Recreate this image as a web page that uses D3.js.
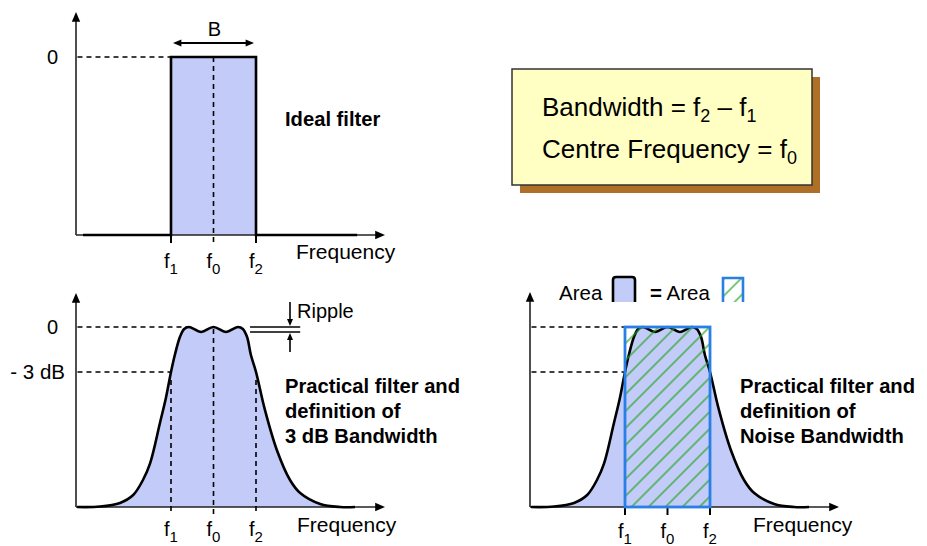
<!DOCTYPE html>
<html>
<head>
<meta charset="utf-8">
<script src="https://cdn.jsdelivr.net/npm/d3@7/dist/d3.min.js"></script>
<style>
  html, body { margin: 0; padding: 0; background: #fff; }
  svg { display: block; font-family: "Liberation Sans", Arial, sans-serif; }
</style>
</head>
<body>
<svg id="chart" width="927" height="546"></svg>
<script>
// ---------------- data ----------------
// frequency in units of half-bandwidth, f0 = 0, f1 = -1, f2 = +1; gain in dB
const tickNames = ["1", "0", "2"];            // subscripts of f
const tickFreqs = [-1, 0, 1];                 // f1, f0, f2
const idealFreq = [-3.07, -1, -1, 1, 1, 3.38];
const idealGain = [-12, -12, 0, 0, -12, -12];
const practicalFreq = [-3.21, -2.67, -2.2, -1.89, -1.66, -1.49, -1.26, -1.12, -1.0, -0.91, -0.79, -0.69, -0.58, -0.29, 0, 0.29, 0.58, 0.69, 0.79, 0.88, 1.0, 1.21, 1.49, 1.8, 2.04, 2.51, 2.98, 3.33];
const practicalGain = [-12, -11.97, -11.73, -11.2, -10.2, -9.07, -6.4, -4.73, -3.0, -1.87, -0.67, -0.13, 0, -0.33, 0, -0.33, 0, -0.13, -0.67, -1.87, -3.0, -5.53, -8.2, -10.2, -11.07, -11.8, -12, -12];
const levelLabels = ["0", "- 3 dB"];
const levelValues = [0, -3];
const rippleGain = [0, -0.33];
const noiseBand = [-1, 1];
const boxLines = [["Bandwidth = f", "2", " \u2013 f", "1"], ["Centre Frequency = f", "0"]];
const titles = {
  ideal: ["Ideal filter"],
  practical: ["Practical filter and", "definition of", "3 dB Bandwidth"],
  noise: ["Practical filter and", "definition of", "Noise Bandwidth"]
};

// ---------------- setup ----------------
const svg = d3.select("#chart");
const BLUE_FILL = "#c3cbf8";
const AXIS = "#222";
const defs = svg.append("defs");
defs.append("pattern").attr("id", "hatch").attr("patternUnits", "userSpaceOnUse")
  .attr("width", 12).attr("height", 12).attr("patternTransform", "rotate(45)")
  .append("line").attr("x1", 1).attr("y1", 0).attr("x2", 1).attr("y2", 12)
  .attr("stroke", "#1fa51f").attr("stroke-width", 1.2);

function arrowHead(g, x, y, dir, size) {
  const s = size || 7;
  let pts;
  if (dir === "up") pts = [[x, y], [x - s * 0.6, y + s * 1.4], [x + s * 0.6, y + s * 1.4]];
  if (dir === "down") pts = [[x, y], [x - s * 0.6, y - s * 1.4], [x + s * 0.6, y - s * 1.4]];
  if (dir === "right") pts = [[x, y], [x - s * 1.4, y - s * 0.6], [x - s * 1.4, y + s * 0.6]];
  if (dir === "left") pts = [[x, y], [x + s * 1.4, y - s * 0.6], [x + s * 1.4, y + s * 0.6]];
  g.append("path").attr("d", "M" + pts.map(p => p.join(",")).join("L") + "Z").attr("fill", "#000");
}

function fLabel(g, x, y, sub) {
  const t = g.append("text").attr("x", x).attr("y", y).attr("text-anchor", "middle")
    .attr("font-size", 20).attr("fill", "#000");
  t.append("tspan").text("f");
  t.append("tspan").attr("dy", 6).attr("font-size", 15).text(sub);
}

function panel(opt) {
  const g = svg.append("g");
  const x = d3.scaleLinear().domain([-3.235, 4.035]).range([opt.x0, opt.x0 + 309]);
  const y = d3.scaleLinear().domain([-12, 0]).range([opt.yBase, opt.yTop]);
  return { g, x, y };
}

function axes(p, opt) {
  const g = p.g;
  const x0 = p.x(-3.235), xEnd = p.x(4.035), yb = p.y(-12);
  g.append("line").attr("x1", x0).attr("x2", x0).attr("y1", yb).attr("y2", opt.yArrow + 6)
    .attr("stroke", AXIS).attr("stroke-width", 1.6);
  arrowHead(g, x0, opt.yArrow, "up", 7);
  g.append("line").attr("x1", x0).attr("x2", xEnd - 6).attr("y1", yb).attr("y2", yb)
    .attr("stroke", AXIS).attr("stroke-width", 1.6);
  arrowHead(g, xEnd, yb, "right", 7);
  g.append("text").attr("x", opt.freqX).attr("y", opt.freqY).attr("font-size", 21).text("Frequency");
}

function dashed(g, x1, y1, x2, y2) {
  g.append("line").attr("x1", x1).attr("y1", y1).attr("x2", x2).attr("y2", y2)
    .attr("stroke", "#000").attr("stroke-width", 1.6).attr("stroke-dasharray", "5,4");
}
function solid(g, x1, y1, x2, y2, w, c) {
  g.append("line").attr("x1", x1).attr("y1", y1).attr("x2", x2).attr("y2", y2)
    .attr("stroke", c || "#000").attr("stroke-width", w || 1.6);
}
function boldText(g, xx, yy, lines) {
  lines.forEach((l, i) => g.append("text").attr("x", xx).attr("y", yy + i * 25)
    .attr("font-size", 20.2).attr("font-weight", "bold").text(l));
}

const practical = practicalFreq.map((f, i) => ({ f, g: practicalGain[i] }));

// ---------------- panel 1: ideal filter ----------------
{
  const p = panel({ x0: 76, yBase: 235, yTop: 57 });
  const g = p.g;
  g.append("rect").attr("x", p.x(-1)).attr("y", p.y(0)).attr("width", p.x(1) - p.x(-1))
    .attr("height", p.y(-12) - p.y(0)).attr("fill", BLUE_FILL);
  axes(p, { yArrow: 12, freqX: 296, freqY: 259 });
  dashed(g, p.x(-3.2), p.y(0), p.x(-1), p.y(0));
  dashed(g, p.x(0), p.y(0), p.x(0), p.y(-12) + 8);
  [-1, 1].forEach(f => solid(g, p.x(f), p.y(-12), p.x(f), p.y(-12) + 8, 2));
  const ideal = idealFreq.map((f, i) => ({ f, g: idealGain[i] }));
  g.append("path").attr("d", d3.line().x(d => p.x(d.f)).y(d => p.y(d.g))(ideal))
    .attr("fill", "none").attr("stroke", "#000").attr("stroke-width", 2.6);
  g.append("text").attr("x", 58).attr("y", p.y(0) + 7).attr("text-anchor", "end")
    .attr("font-size", 20).text(levelLabels[0]);
  // bandwidth arrow B
  const ay = 43;
  solid(g, p.x(-1) + 8, ay, p.x(1) - 8, ay, 1.8);
  arrowHead(g, p.x(-1) + 2, ay, "left", 6);
  arrowHead(g, p.x(1) - 2, ay, "right", 6);
  g.append("text").attr("x", p.x(0) + 1).attr("y", 36).attr("text-anchor", "middle").attr("font-size", 20).text("B");
  tickFreqs.forEach((f, i) => fLabel(g, p.x(f), 268, tickNames[i]));
  boldText(g, 285, 126, titles.ideal);
}

// ---------------- panel 2: practical filter, 3 dB bandwidth ----------------
{
  const p = panel({ x0: 76, yBase: 507, yTop: 327 });
  const g = p.g;
  const curve = d3.curveCatmullRom.alpha(0.5);
  g.append("path").attr("d", d3.area().x(d => p.x(d.f)).y0(p.y(-12)).y1(d => p.y(d.g)).curve(curve)(practical))
    .attr("fill", BLUE_FILL);
  axes(p, { yArrow: 293, freqX: 297, freqY: 532 });
  dashed(g, p.x(-3.2), p.y(0), p.x(-0.6), p.y(0));
  dashed(g, p.x(-3.2), p.y(-3), p.x(-1), p.y(-3));
  dashed(g, p.x(-1), p.y(-3) + 8, p.x(-1), p.y(-12) + 8);
  dashed(g, p.x(1), p.y(-3) + 8, p.x(1), p.y(-12) + 8);
  dashed(g, p.x(0), p.y(0) + 2, p.x(0), p.y(-12) + 8);
  g.append("path").attr("d", d3.line().x(d => p.x(d.f)).y(d => p.y(d.g)).curve(curve)(practical))
    .attr("fill", "none").attr("stroke", "#000").attr("stroke-width", 2.6);
  levelValues.forEach((v, i) => g.append("text").attr("x", i === 0 ? 58 : 65).attr("y", p.y(v) + 7)
    .attr("text-anchor", "end").attr("font-size", i === 0 ? 20 : 20.5).text(levelLabels[i]));
  // ripple annotation
  const rx1 = p.x(0.86), rx2 = p.x(2.04), ax = p.x(1.8);
  rippleGain.forEach(v => solid(g, rx1, p.y(v), rx2, p.y(v), 1.6));
  solid(g, ax, 302, ax, p.y(0) - 8, 1.6);
  arrowHead(g, ax, p.y(0) - 1, "down", 5);
  solid(g, ax, 352, ax, p.y(rippleGain[1]) + 8, 1.6);
  arrowHead(g, ax, p.y(rippleGain[1]) + 1, "up", 5);
  g.append("text").attr("x", 297).attr("y", 318).attr("font-size", 20).text("Ripple");
  tickFreqs.forEach((f, i) => fLabel(g, p.x(f), 536, tickNames[i]));
  boldText(g, 285, 393, titles.practical);
}

// ---------------- panel 3: noise bandwidth ----------------
{
  const p = panel({ x0: 530, yBase: 507, yTop: 327 });
  const g = p.g;
  const curve = d3.curveCatmullRom.alpha(0.5);
  g.append("path").attr("d", d3.area().x(d => p.x(d.f)).y0(p.y(-12)).y1(d => p.y(d.g)).curve(curve)(practical))
    .attr("fill", BLUE_FILL);
  axes(p, { yArrow: 292, freqX: 753, freqY: 532 });
  dashed(g, p.x(-3.2), p.y(0), p.x(-1), p.y(0));
  dashed(g, p.x(-3.2), p.y(-3), p.x(-1), p.y(-3));
  tickFreqs.forEach(f => solid(g, p.x(f), p.y(-12), p.x(f), p.y(-12) + 8, 2));
  g.append("path").attr("d", d3.line().x(d => p.x(d.f)).y(d => p.y(d.g)).curve(curve)(practical))
    .attr("fill", "none").attr("stroke", "#000").attr("stroke-width", 2.6);
  g.append("rect").attr("x", p.x(noiseBand[0])).attr("y", p.y(0))
    .attr("width", p.x(noiseBand[1]) - p.x(noiseBand[0])).attr("height", p.y(-12) - p.y(0))
    .attr("fill", "url(#hatch)").attr("stroke", "#2a7fe6").attr("stroke-width", 2.8);
  tickFreqs.forEach((f, i) => fLabel(g, p.x(f), 538, tickNames[i]));
  boldText(g, 740, 393, titles.noise);
  // legend
  g.append("text").attr("x", 559).attr("y", 300).attr("font-size", 20.5).text("Area");
  g.append("path").attr("d", "M613,302V280Q613,277 616,277H632Q635,277 635,280V302")
    .attr("fill", BLUE_FILL).attr("stroke", "#000").attr("stroke-width", 2.6);
  const t = g.append("text").attr("x", 650).attr("y", 300).attr("font-size", 20.5);
  t.append("tspan").attr("font-weight", "bold").text("=");
  t.append("tspan").text(" Area");
  g.append("path").attr("d", "M723,302V278H743V302")
    .attr("fill", "url(#hatch)").attr("stroke", "#2a7fe6").attr("stroke-width", 2.6);
}

// ---------------- info box ----------------
{
  const g = svg.append("g");
  g.append("rect").attr("x", 520).attr("y", 77).attr("width", 300).attr("height", 116).attr("fill", "#b06f26");
  g.append("rect").attr("x", 512).attr("y", 69).attr("width", 300).attr("height", 116)
    .attr("fill", "#ffffc4").attr("stroke", "#333").attr("stroke-width", 1.5);
  boxLines.forEach((parts, li) => {
    const t = g.append("text").attr("x", 542).attr("y", 116 + li * 42).attr("font-size", 26);
    parts.forEach((s, i) => {
      const isSub = i % 2 === 1;
      t.append("tspan").attr("dy", isSub ? 6 : (i > 0 ? -6 : 0)).attr("font-size", isSub ? 18 : 26).text(s);
    });
  });
}
</script>
</body>
</html>
